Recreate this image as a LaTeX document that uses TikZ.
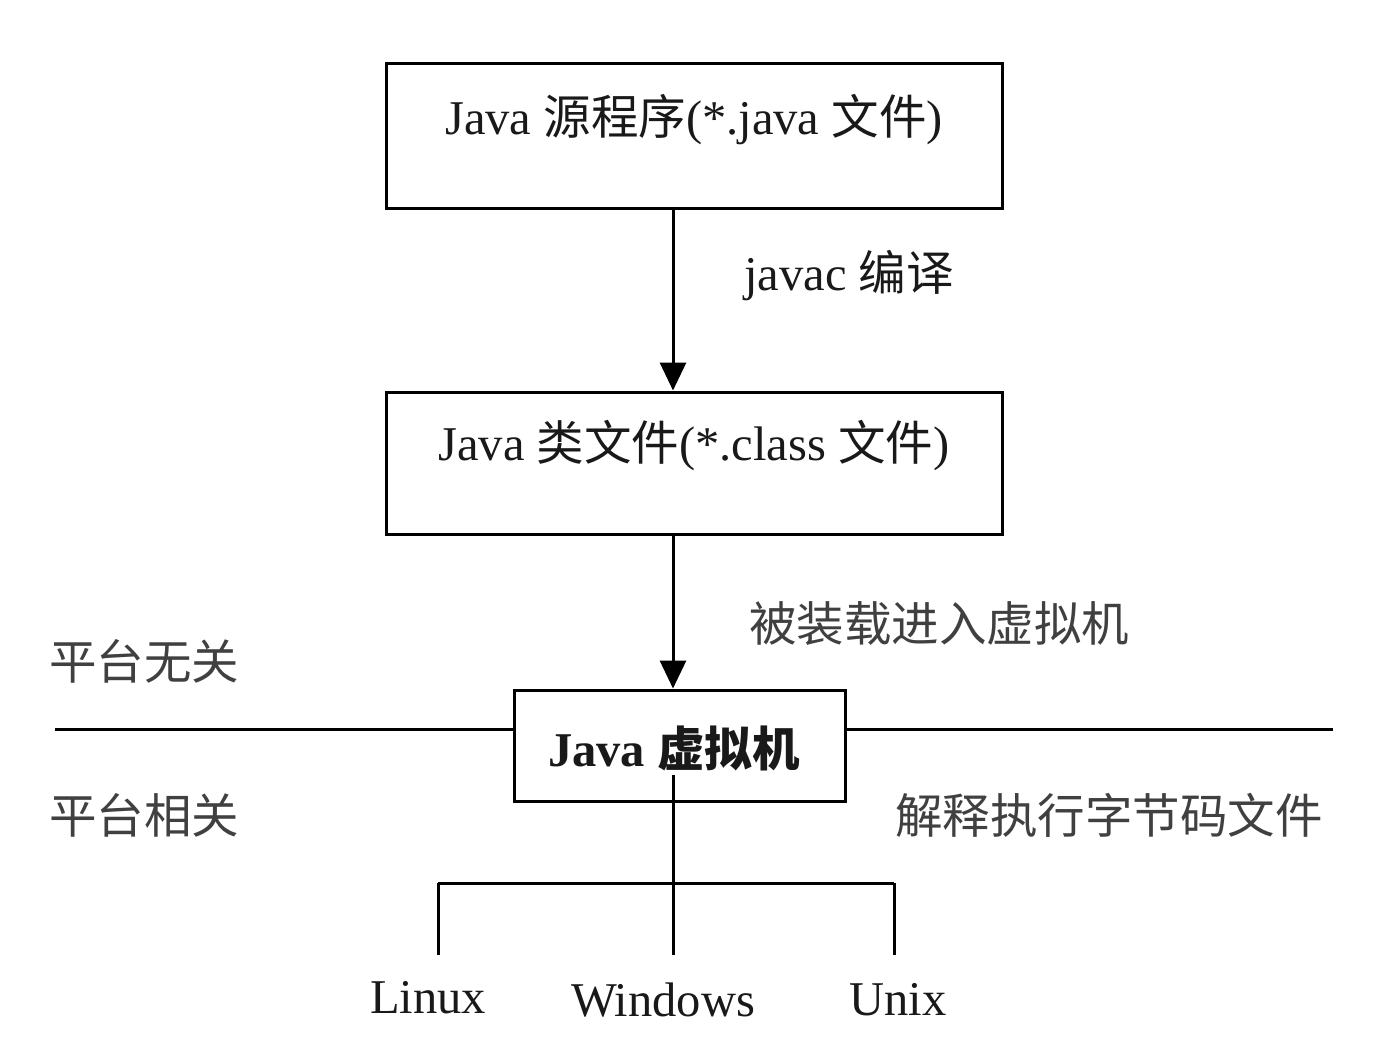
\documentclass[tikz,border=0pt]{standalone}
\usepackage{fontspec}
\setmainfont{Liberation Serif}
\newfontfamily\cjk{Noto Sans CJK SC}
\usetikzlibrary{arrows.meta}
\newcommand\cjkin{\cjk\fontsize{47.5}{56}\selectfont}
\tikzset{
  boxnode/.style={draw=black, line width=3pt, minimum width=616, minimum height=145, inner sep=0pt},
  txt/.style={inner sep=0pt, text=black!90, font=\fontsize{48.5}{56}\selectfont},
  cjktxt/.style={inner sep=0pt, text=black!75, font=\cjk\fontsize{47.5}{56}\selectfont},
  conn/.style={draw=black, line width=3pt},
  arr/.style={conn, -{Triangle[width=26pt,length=28pt]}}
}
\begin{document}
\begin{tikzpicture}[x=1pt,y=-1pt]
\useasboundingbox[fill=white] (0,0) rectangle (1382,1042);
% boxes
\node[boxnode] (src) at (694,135.5) {};
\node[txt] (srct) at (694,120) {Java {\cjkin 源程序}(*.java {\cjkin 文件})};
\node[boxnode, minimum height=142] (cls) at (694,463) {};
\node[txt] (clst) at (694,446) {Java {\cjkin 类文件}(*.class {\cjkin 文件})};
\node[boxnode, minimum width=331, minimum height=111] (jvm) at (679.5,745.5) {};
\node[txt, font=\bfseries\fontsize{48.5}{56}\selectfont] (jvmt) at (674,748) {Java {\cjkin\bfseries 虚拟机}};
% coordinates
\coordinate (trunk) at (673,0);
\coordinate (hl) at (55,729);
\coordinate (hr) at (1333,729);
\coordinate (ttop) at (673,775);
\coordinate (bl) at (438,883);
\coordinate (bm) at (673,883);
\coordinate (br) at (894,883);
\coordinate (el) at (438,955);
\coordinate (em) at (673,955);
\coordinate (er) at (894,955);
% arrows
\draw[arr] (src.south -| trunk) -- (cls.north -| trunk);
\draw[arr] (cls.south -| trunk) -- (jvm.north -| trunk);
% platform line
\draw[conn] (hl) -- (hl -| jvm.west);
\draw[conn] (hr) -- (hr -| jvm.east);
% tree
\draw[conn] (ttop) -- (em);
\draw[conn] (bl) -- (br);
\draw[conn] (bl) -- (el);
\draw[conn] (br) -- (er);
% labels
\node[txt, anchor=west] (javac) at (744,276) {javac {\cjkin 编译}};
\node[cjktxt, anchor=west] (load) at (749,624) {被装载进入虚拟机};
\node[cjktxt, anchor=west] (indep) at (49,661) {平台无关};
\node[cjktxt, anchor=west] (dep) at (49,815) {平台相关};
\node[cjktxt, anchor=west] (interp) at (895,815) {解释执行字节码文件};
\node[txt] (linux) at (428,998) {Linux};
\node[txt] (windows) at (663,1000) {Windows};
\node[txt] (unix) at (898,1000) {Unix};
\end{tikzpicture}
\end{document}
